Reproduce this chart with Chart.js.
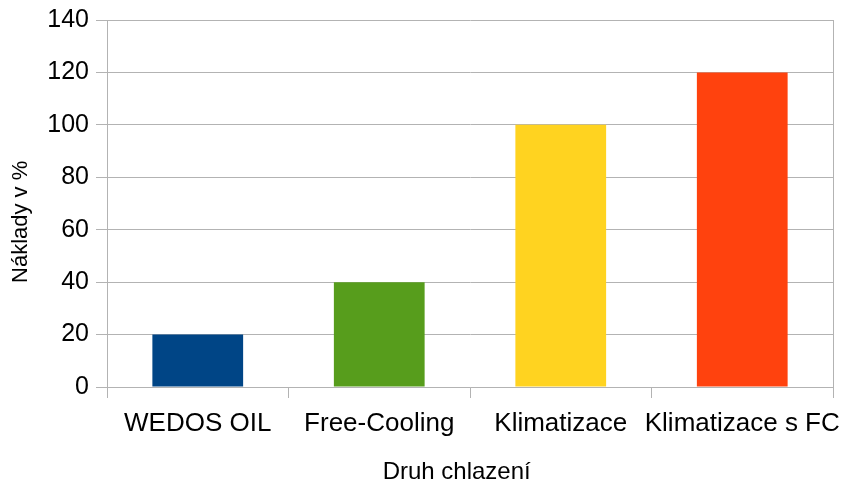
<!DOCTYPE html>
<html>
<head>
<meta charset="utf-8">
<script src="https://cdn.jsdelivr.net/npm/chart.js@4/dist/chart.umd.min.js"></script>
<style>
  html, body { margin: 0; padding: 0; background: #fff; }
  #wrap { width: 846px; height: 482px; }
</style>
</head>
<body>
<div id="wrap"><canvas id="chart-costs"></canvas></div>
<script>
// druhy chlazení a náklady v %
const categories = ["WEDOS OIL", "Free-Cooling", "Klimatizace", "Klimatizace s FC"];
const costs = [20, 40, 100, 120];
const barColors = ["#004586", "#579d1c", "#ffd320", "#ff420e"];
const yTicks = [0, 20, 40, 60, 80, 100, 120, 140];

const gridColor = "#b3b3b3";
const font = "'Liberation Sans', Arial, sans-serif";

document.addEventListener("DOMContentLoaded", () => {
  const ctx = document.getElementById("chart-costs");
  new Chart(ctx, {
    type: "bar",
    data: {
      labels: categories,
      datasets: [
        {
          label: "Náklady v %",
          data: costs,
          backgroundColor: barColors,
          categoryPercentage: 1,
          barPercentage: 0.5,
        },
      ],
    },
    options: {
      responsive: true,
      maintainAspectRatio: false,
      animation: false,
      layout: { padding: { top: 20, right: 13, left: 4, bottom: 0 } },
      plugins: {
        legend: { display: false },
        tooltip: { enabled: false },
      },
      scales: {
        x: {
          grid: {
            offset: true,
            drawOnChartArea: false,
            color: gridColor,
            tickLength: 11,
          },
          border: { color: gridColor },
          ticks: {
            color: "#000",
            font: { family: font, size: 26 },
            padding: 10,
            maxRotation: 0,
            autoSkip: false,
          },
          title: {
            display: true,
            text: "Druh chlazení\u00a0\u00a0\u00a0\u00a0",
            color: "#000",
            font: { family: font, size: 24 },
            padding: { top: 12, bottom: -5 },
          },
          afterFit: (scale) => {
            scale.height = 95;
            scale.paddingLeft = 0;
            scale.paddingRight = 0;
          },
        },
        y: {
          min: 0,
          max: 140,
          afterBuildTicks: (scale) => { scale.ticks = yTicks.map((v) => ({ value: v })); },
          grid: { color: gridColor, tickLength: 11 },
          border: { color: gridColor },
          ticks: { color: "#000", font: { family: font, size: 25 }, padding: 7 },
          title: {
            display: true,
            text: "Náklady v %\u00a0\u00a0\u00a0\u00a0\u00a0\u00a0",
            color: "#000",
            font: { family: font, size: 22 },
          },
          afterFit: (scale) => {
            scale.width = 103;
            scale.paddingTop = 0;
            scale.paddingBottom = 0;
          },
        },
        y2: {
          position: "right",
          min: 0,
          max: 140,
          grid: { drawOnChartArea: false, drawTicks: false },
          border: { color: gridColor },
          ticks: { display: false },
          afterFit: (scale) => {
            scale.width = 0;
            scale.paddingTop = 0;
            scale.paddingBottom = 0;
          },
        },
      },
    },
  });
});
</script>
</body>
</html>
